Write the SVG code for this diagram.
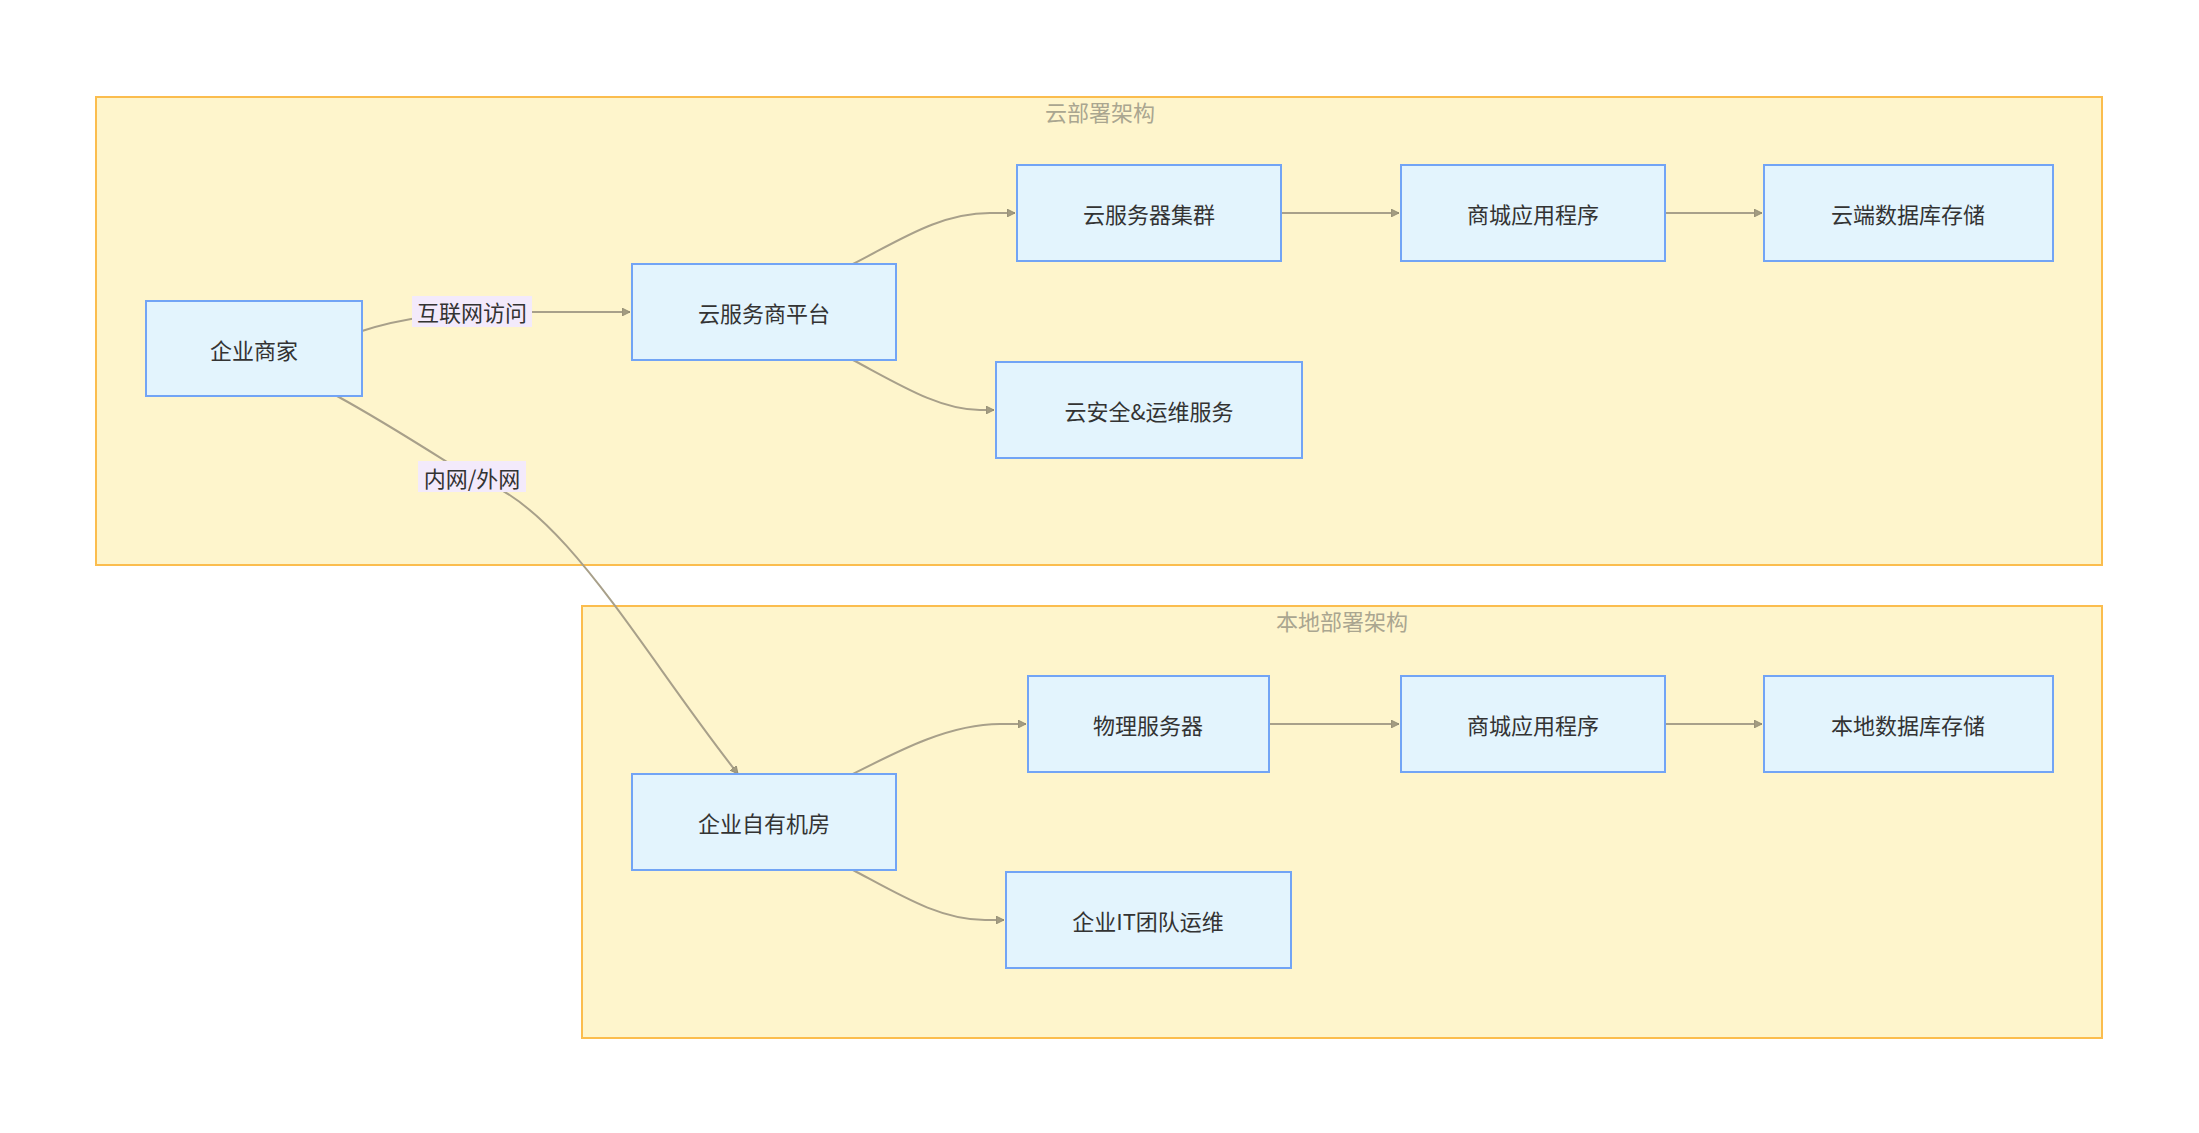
<svg xmlns="http://www.w3.org/2000/svg" width="2199" height="1133" viewBox="0 0 2199 1133">
<style>
.cl{fill:#fef5cc;stroke:#fbbd4e;stroke-width:2}
.ct{font-family:"Noto Sans CJK SC","Liberation Sans",sans-serif;font-size:22px;fill:#aaa690;text-anchor:middle}
.n rect{fill:#e3f4fd;stroke:#72a4f5;stroke-width:2}
.n text,.lb text{font-family:"Noto Sans CJK SC","Liberation Sans",sans-serif;font-size:22px;fill:#333;text-anchor:middle;dominant-baseline:central}
.e{fill:none;stroke:#a8a08a;stroke-width:2;marker-end:url(#ah)}
.lb rect{fill:#f3eafb}
</style>
<defs><marker id="ah" viewBox="0 0 10 10" refX="10" refY="5" markerWidth="8" markerHeight="8" orient="auto" markerUnits="userSpaceOnUse"><path d="M0,0L10,5L0,10z" fill="#a39c82" stroke="#8f8870" stroke-width="1"/></marker></defs>
<rect width="2199" height="1133" fill="#fff"/>
<g id="cloud"><rect class="cl" x="96" y="97" width="2006" height="468"/><text class="ct" x="1100" y="121">云部署架构</text></g>
<g id="local"><rect class="cl" x="582" y="606" width="1520" height="432"/><text class="ct" x="1342" y="630">本地部署架构</text></g>
<g id="edges">
<path class="e" d="M362,331 Q420,312 500,312 L630,312"/>
<path class="e" d="M337,396 C390,425 440,458 471,477 C560,500 640,650 738,774"/>
<path class="e" d="M853,264 C900,240 940,213 990,213 L1015,213"/>
<path class="e" d="M853,360 C900,385 940,410 980,410 L994,410"/>
<path class="e" d="M1281,213 L1399,213"/>
<path class="e" d="M1665,213 L1762,213"/>
<path class="e" d="M853,774 C900,750 950,724 1000,724 L1026,724"/>
<path class="e" d="M853,870 C900,895 940,920 985,920 L1004,920"/>
<path class="e" d="M1269,724 L1399,724"/>
<path class="e" d="M1665,724 L1762,724"/>
</g>
<g class="lb" id="l1"><rect x="412" y="296" width="120" height="31"/><text x="472" y="311">互联网访问</text></g>
<g class="lb" id="l2"><rect x="418" y="461" width="108" height="31"/><text x="472" y="477">内网/外网</text></g>
<g class="n" id="a"><rect x="146" y="301" width="216" height="95"/><text x="254" y="349">企业商家</text></g>
<g class="n" id="b"><rect x="632" y="264" width="264" height="96"/><text x="764" y="312">云服务商平台</text></g>
<g class="n" id="c"><rect x="1017" y="165" width="264" height="96"/><text x="1149" y="213">云服务器集群</text></g>
<g class="n" id="d"><rect x="1401" y="165" width="264" height="96"/><text x="1533" y="213">商城应用程序</text></g>
<g class="n" id="e"><rect x="1764" y="165" width="289" height="96"/><text x="1908" y="213">云端数据库存储</text></g>
<g class="n" id="f"><rect x="996" y="362" width="306" height="96"/><text x="1149" y="410">云安全&amp;运维服务</text></g>
<g class="n" id="g"><rect x="632" y="774" width="264" height="96"/><text x="764" y="822">企业自有机房</text></g>
<g class="n" id="h"><rect x="1028" y="676" width="241" height="96"/><text x="1148" y="724">物理服务器</text></g>
<g class="n" id="i"><rect x="1401" y="676" width="264" height="96"/><text x="1533" y="724">商城应用程序</text></g>
<g class="n" id="j"><rect x="1764" y="676" width="289" height="96"/><text x="1908" y="724">本地数据库存储</text></g>
<g class="n" id="k"><rect x="1006" y="872" width="285" height="96"/><text x="1148" y="920">企业IT团队运维</text></g>
</svg>
